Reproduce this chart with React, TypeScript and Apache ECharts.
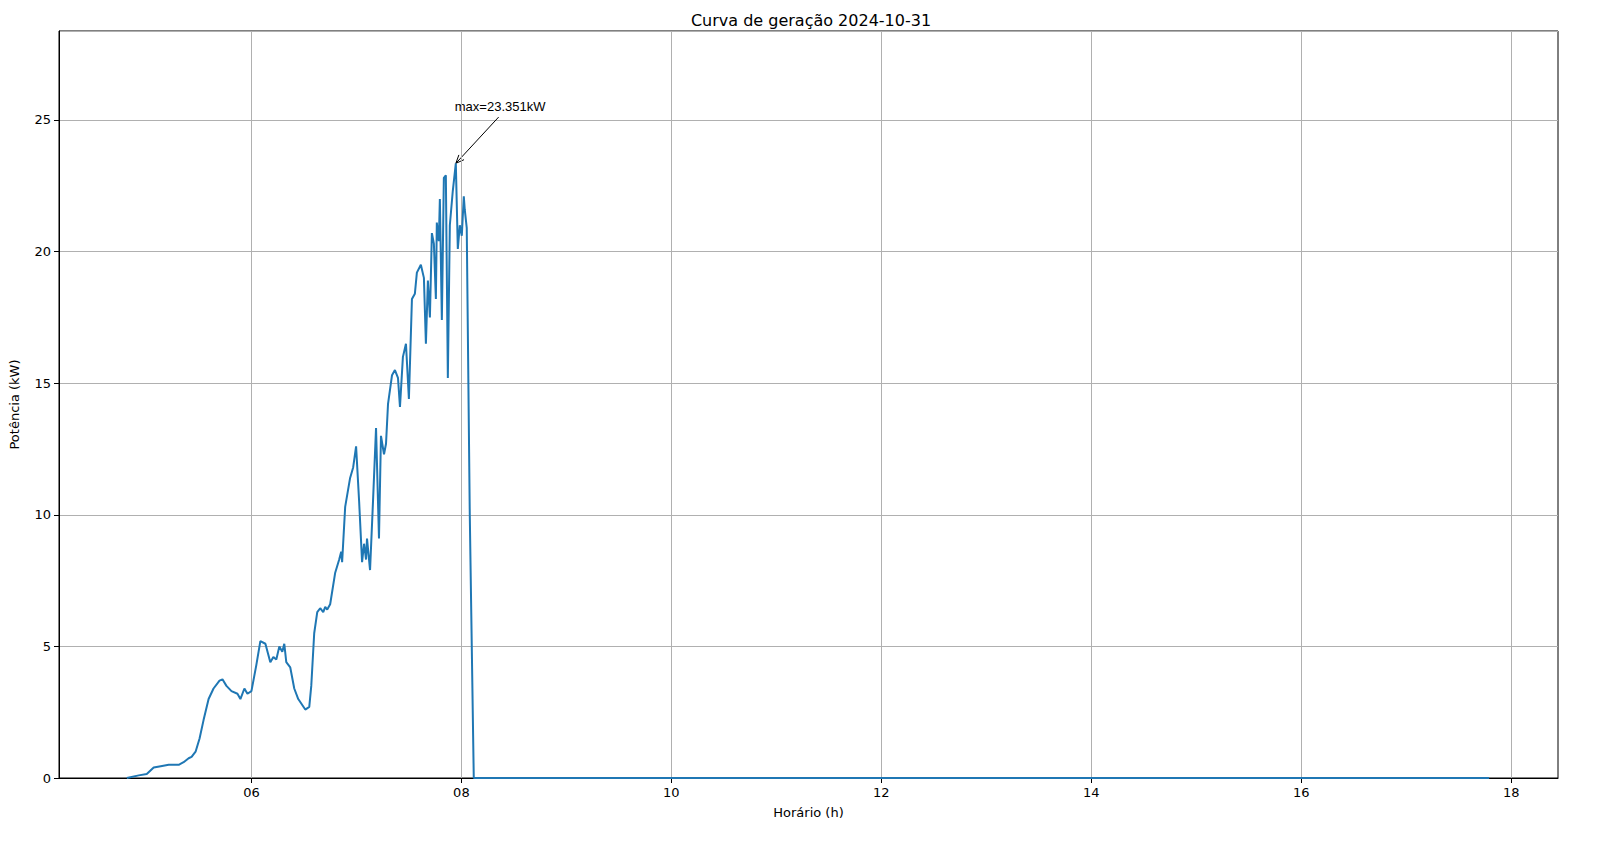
import React, { useEffect, useRef } from "react";
import * as echarts from "echarts";

// hours of day (decimal) and power in kW
const hours: number[] = [
  4.813, 4.927, 5.003, 5.069, 5.136, 5.212, 5.307, 5.354, 5.402, 5.43, 5.468, 5.506,
  5.544, 5.592, 5.639, 5.696, 5.724, 5.762, 5.81, 5.867, 5.895, 5.933, 5.962, 6.0,
  6.047, 6.085, 6.133, 6.18, 6.209, 6.237, 6.266, 6.294, 6.313, 6.332, 6.37, 6.408,
  6.446, 6.513, 6.551, 6.57, 6.598, 6.627, 6.655, 6.684, 6.703, 6.722, 6.75, 6.798,
  6.836, 6.855, 6.864, 6.893, 6.94, 6.969, 6.997, 7.026, 7.054, 7.073, 7.092, 7.101,
  7.13, 7.158, 7.187, 7.215, 7.234, 7.263, 7.282, 7.301, 7.339, 7.367, 7.396, 7.415,
  7.443, 7.472, 7.5, 7.529, 7.557, 7.576, 7.614, 7.643, 7.662, 7.681, 7.7, 7.719,
  7.738, 7.757, 7.766, 7.785, 7.795, 7.814, 7.833, 7.852, 7.871, 7.89, 7.918, 7.947,
  7.966, 7.985, 8.004, 8.023, 8.032, 8.051, 8.08, 8.118, 17.79,
];
const power: number[] = [
  0, 0.1, 0.15, 0.4, 0.45, 0.5, 0.5, 0.6, 0.75, 0.8, 1.0, 1.5,
  2.2, 3.0, 3.4, 3.7, 3.75, 3.5, 3.3, 3.2, 3.0, 3.4, 3.2, 3.3,
  4.3, 5.2, 5.1, 4.4, 4.6, 4.5, 5.0, 4.8, 5.1, 4.4, 4.2, 3.4,
  3.0, 2.6, 2.7, 3.5, 5.5, 6.3, 6.45, 6.3, 6.5, 6.4, 6.6, 7.8,
  8.3, 8.6, 8.2, 10.3, 11.4, 11.8, 12.6, 10.5, 8.2, 8.9, 8.3, 9.1,
  7.9, 10.5, 13.3, 9.1, 13.0, 12.3, 12.7, 14.2, 15.3, 15.5, 15.2, 14.1,
  16.0, 16.5, 14.4, 18.2, 18.4, 19.2, 19.5, 19.0, 16.5, 18.9, 17.5, 20.7,
  20.3, 18.2, 21.1, 20.4, 22.0, 17.4, 22.8, 22.9, 15.2, 21.0, 22.3, 23.351,
  20.1, 21.0, 20.6, 22.1, 21.6, 20.9, 10, 0, 0,
];
const xTicks: number[] = [6, 8, 10, 12, 14, 16, 18];
const maxLabel = "max=23.351kW";

const App: React.FC = () => {
  const chartRef = useRef<HTMLDivElement>(null);

  useEffect(() => {
    document.body.style.margin = "0";
    const dom = chartRef.current;
    if (!dom) return;
    const chart = echarts.init(dom, undefined, { renderer: "svg" });
    const font = "DejaVu Sans";
    const peakIdx = power.indexOf(Math.max(...power));

    chart.setOption({
      animation: false,
      textStyle: { fontFamily: font },
      title: {
        text: "Curva de geração 2024-10-31",
        left: 806,
        top: 7,
        textAlign: "center",
        textStyle: { fontSize: 16, fontWeight: "normal", color: "#000", fontFamily: font },
      },
      grid: {
        left: 55, right: 58, top: 31, bottom: 77,
        show: true, borderColor: "#000", borderWidth: 1,
      },
      xAxis: {
        type: "value",
        min: 4.167,
        max: 18.446,
        name: "Horário (h)",
        nameLocation: "middle",
        nameGap: 28,
        nameTextStyle: { fontSize: 13, color: "#000" },
        axisLine: { show: true, lineStyle: { color: "#000" } },
        axisTick: { show: true, length: 5, customValues: xTicks, lineStyle: { color: "#000" } },
        axisLabel: {
          fontSize: 13, color: "#000", margin: 8,
          customValues: xTicks,
          formatter: (v: number) => String(Math.round(v)).padStart(2, "0"),
        },
        splitLine: { show: false },
      },
      yAxis: {
        type: "value",
        min: 0,
        max: 28.38,
        interval: 5,
        name: "Potência (kW)",
        nameLocation: "middle",
        nameGap: 38,
        nameTextStyle: { fontSize: 13, color: "#000" },
        axisLine: { show: true, lineStyle: { color: "#000" } },
        axisTick: { show: true, length: 5, lineStyle: { color: "#000" } },
        axisLabel: {
          fontSize: 13, color: "#000", margin: 8,
          showMaxLabel: false,
        },
        splitLine: { show: true, lineStyle: { color: "#b0b0b0", width: 1 } },
      },
      series: [
        {
          type: "line",
          data: hours.map((h, i) => [h, power[i]]),
          showSymbol: false,
          lineStyle: { color: "#1f77b4", width: 2 },
          markLine: {
            silent: true,
            symbol: "none",
            label: { show: false },
            lineStyle: { color: "#b0b0b0", width: 1, type: "solid" },
            data: xTicks.map((t) => ({ xAxis: t })),
            z: 1,
          },
          z: 3,
        },
      ],
    });

    const head = chart.convertToPixel({ gridIndex: 0 }, [hours[peakIdx], power[peakIdx]]);
    const tail = chart.convertToPixel({ gridIndex: 0 }, [8.355, 25.11]);
    const txt = chart.convertToPixel({ gridIndex: 0 }, [7.937, 25.53]);
    const ang = Math.atan2(head[1] - tail[1], head[0] - tail[0]);
    const a = 9;
    chart.setOption({
      graphic: [
        {
          type: "text",
          x: txt[0],
          y: txt[1],
          style: { text: maxLabel, fontSize: 13, fill: "#000", font: `13px ${font}`, verticalAlign: "middle" },
        },
        {
          type: "line",
          shape: { x1: tail[0], y1: tail[1], x2: head[0], y2: head[1] },
          style: { stroke: "#000", lineWidth: 1 },
        },
        {
          type: "polyline",
          shape: {
            points: [
              [head[0] - a * Math.cos(ang - 0.4), head[1] - a * Math.sin(ang - 0.4)],
              [head[0], head[1]],
              [head[0] - a * Math.cos(ang + 0.4), head[1] - a * Math.sin(ang + 0.4)],
            ],
          },
          style: { stroke: "#000", lineWidth: 1, fill: "none" },
        },
      ],
    });

    return () => {
      chart.dispose();
    };
  }, []);

  return <div ref={chartRef} style={{ width: "1616px", height: "855px" }} />;
};

export default App;
